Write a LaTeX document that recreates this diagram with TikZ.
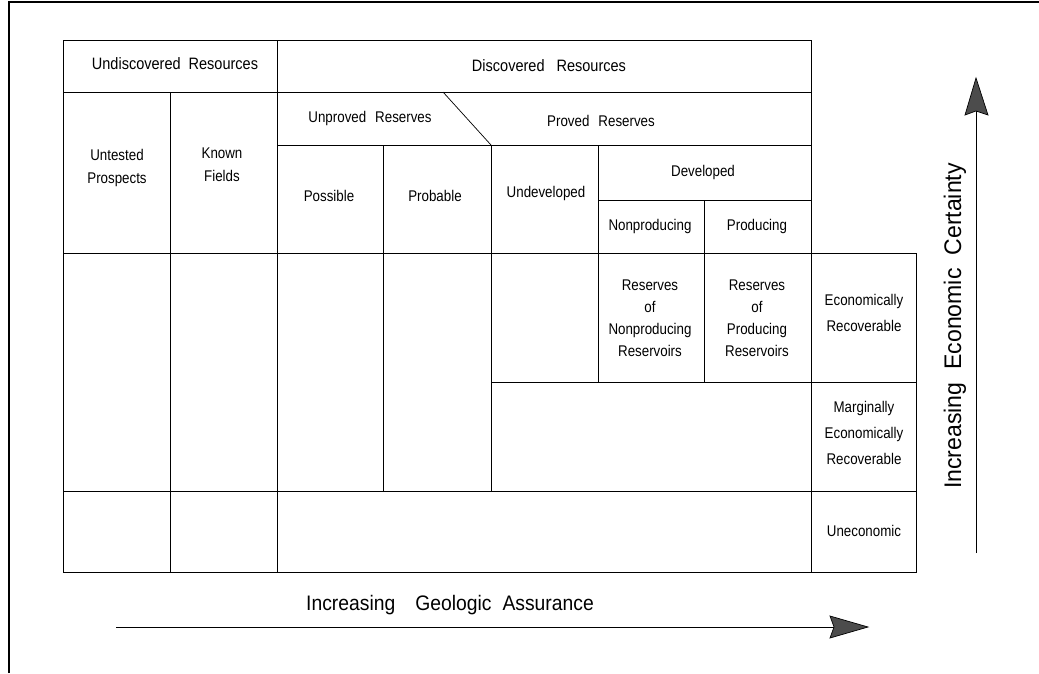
\documentclass[tikz,border=0pt]{standalone}
\usepackage{fontspec}
\setmainfont{Liberation Sans}[FakeStretch=0.86]
\newfontfamily\hfont{Liberation Sans}[FakeStretch=0.88]
\newfontfamily\bfont{Liberation Sans}[FakeStretch=0.92]
\newfontfamily\vfont{Liberation Sans}[FakeStretch=0.96]
\begin{document}
\begin{tikzpicture}[x=1pt,y=-1pt,
  frame/.style={line width=1.2pt},
  tbl/.style={line width=0.9pt},
  lbl/.style={font=\fontsize{15.5}{23}\selectfont, align=center, inner sep=0pt},
  head/.style={font=\hfont\fontsize{16.5}{18}\selectfont, inner sep=0pt},
  big/.style={font=\bfont\fontsize{21}{25}\selectfont, inner sep=0pt},
  vbig/.style={font=\vfont\fontsize{24}{28}\selectfont, inner sep=0pt, rotate=90},
  axis/.style={line width=1pt},
  tip/.style={fill=black!70, draw=black, line width=0.7pt, line join=miter}]
\useasboundingbox (0,0) rectangle (1039,673);
% page frame
\draw[frame] (9,673) -- (9,2) -- (1039,2);
% table
\draw[tbl] (811,253) -- (811,40) -- (63,40) -- (63,572) -- (916,572) -- (916,253) -- (63,253);
\draw[tbl] (63,92) -- (811,92);
\draw[tbl] (277,145) -- (811,145);
\draw[tbl] (598,200) -- (811,200);
\draw[tbl] (491,382) -- (916,382);
\draw[tbl] (63,491) -- (916,491);
\draw[tbl] (170,92) -- (170,572);
\draw[tbl] (277,40) -- (277,572);
\draw[tbl] (383,145) -- (383,491);
\draw[tbl] (491,145) -- (491,491);
\draw[tbl] (598,145) -- (598,382);
\draw[tbl] (704,200) -- (704,382);
\draw[tbl] (811,253) -- (811,572);
\draw[line width=0.7pt] (443,92) -- (491,145);
% labels
\node[head] (undisc) at (175,64) {Undiscovered\hspace{8pt}Resources};
\node[head] (disc) at (549,66) {Discovered\hspace{12pt}Resources};
\node[lbl] (unproved) at (370,118) {Unproved\hspace{9pt}Reserves};
\node[lbl] (proved) at (601,121) {Proved\hspace{9pt}Reserves};
\node[lbl] (untested) at (117,168) {Untested\\Prospects};
\node[lbl] (known) at (222,165) {Known\\Fields};
\node[lbl] (possible) at (329,196) {Possible};
\node[lbl] (probable) at (435,196) {Probable};
\node[lbl] (undev) at (546,193) {Undeveloped};
\node[lbl] (dev) at (703,172) {Developed};
\node[lbl] (nonprod) at (650,226) {Nonproducing};
\node[lbl] (prod) at (757,226) {Producing};
\node[lbl, font=\fontsize{15.5}{22}\selectfont] (rnp) at (650,318) {Reserves\\of\\Nonproducing\\Reservoirs};
\node[lbl, font=\fontsize{15.5}{22}\selectfont] (rp) at (757,318) {Reserves\\of\\Producing\\Reservoirs};
\node[lbl, font=\fontsize{15.5}{26}\selectfont] (econ) at (864,313) {Economically\\Recoverable};
\node[lbl, font=\fontsize{15.5}{26}\selectfont] (marg) at (864,433) {Marginally\\Economically\\Recoverable};
\node[lbl] (unecon) at (864,531) {Uneconomic};
\node[big] (geo) at (450,605) {Increasing\hspace{20pt}Geologic\hspace{11pt}Assurance};
\node[vbig] (eco) at (955,326) {Increasing\hspace{13pt}Economic\hspace{13pt}Certainty};
% axes
\coordinate (h0) at (116,627);
\coordinate (h1) at (834,627);
\coordinate (v0) at (976,553);
\coordinate (v1) at (976,111);
\draw[axis] (h0) -- (h1);
\draw[axis] (v0) -- (v1);
\filldraw[tip] (868,627) -- (830,638) -- (834,627) -- (830,616) -- cycle;
\filldraw[tip] (976,78) -- (988,115) -- (976,111) -- (965,115) -- cycle;
\end{tikzpicture}
\end{document}
